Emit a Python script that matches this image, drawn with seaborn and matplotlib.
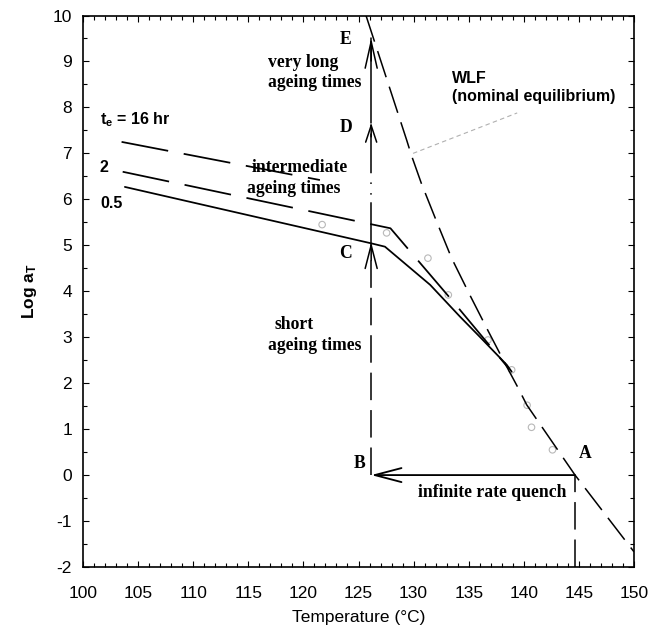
import matplotlib
matplotlib.use("Agg")
import matplotlib.pyplot as plt
from matplotlib.ticker import MultipleLocator
import seaborn as sns

# ---------------- data ----------------
wlf_T = [125.68, 129.37, 129.8, 130.7, 132.1, 133.45, 135.1, 136.8, 138.45, 139.5, 140.26, 144.65, 150.0]
wlf_logaT = [10.0, 7.29, 6.96, 6.35, 5.51, 4.72, 3.92, 3.12, 2.36, 1.89, 1.53, 0.0, -1.67]

age05_T = [103.8, 126.2, 127.4, 131.5, 134.2, 136.0, 138.45, 138.9]
age05_logaT = [6.27, 5.04, 4.97, 4.14, 3.45, 3.01, 2.40, 2.25]

age2_T = [103.6, 127.9, 133.6, 138.7]
age2_logaT = [6.60, 5.37, 3.77, 2.30]

age16_T = [103.5, 121.5]
age16_logaT = [7.25, 6.42]

data_T = [121.7, 127.55, 131.3, 133.15, 136.75, 138.9, 140.3, 140.7, 142.6]
data_logaT = [5.45, 5.27, 4.72, 3.92, 2.94, 2.29, 1.52, 1.04, 0.55]

leader_T = [129.95, 139.4]
leader_logaT = [7.0, 7.88]

T_quench = 126.15          # temperature of ageing (B-C-D-E)
T_A = 144.65               # starting temperature (A)
logaT_A = 0.0
logaT_C = 5.07
logaT_D = 7.66
logaT_E = 9.51

x_ticks = [100, 105, 110, 115, 120, 125, 130, 135, 140, 145, 150]
y_ticks = [-2, -1, 0, 1, 2, 3, 4, 5, 6, 7, 8, 9, 10]

# ---------------- style ----------------
sns.set_theme(style="ticks")
plt.rcParams["font.family"] = ["Liberation Sans", "DejaVu Sans"]
plt.rcParams["axes.unicode_minus"] = False
plt.rcParams["mathtext.fontset"] = "custom"
plt.rcParams["mathtext.rm"] = "Liberation Sans"
plt.rcParams["mathtext.bf"] = "Liberation Sans:bold"
plt.rcParams["mathtext.it"] = "Liberation Sans:italic"

fig = plt.figure(figsize=(6.5, 6.3), dpi=100)
ax = fig.add_axes([83 / 650, 63 / 630, 551 / 650, 551.5 / 630])

K = "black"
LW = 1.1
long_dash = (0, (18, 6.5))
age_dash = (0, (27, 9))

# WLF equilibrium curve
sns.lineplot(x=wlf_T, y=wlf_logaT, sort=False, estimator=None, color=K,
             lw=LW, linestyle=long_dash, ax=ax)
# ageing curves
sns.lineplot(x=age05_T, y=age05_logaT, sort=False, estimator=None, color=K,
             lw=LW * 1.15, ax=ax)
sns.lineplot(x=age2_T, y=age2_logaT, sort=False, estimator=None, color=K,
             lw=LW * 1.15, linestyle=age_dash, ax=ax)
sns.lineplot(x=age16_T, y=age16_logaT, sort=False, estimator=None, color=K,
             lw=LW * 1.15, linestyle=age_dash, ax=ax)
# faint data markers
sns.scatterplot(x=data_T, y=data_logaT, marker="o", s=22, facecolors="none",
                edgecolors="#b8b8b8", linewidths=0.8, ax=ax, zorder=1)
# leader line to WLF label
sns.lineplot(x=leader_T, y=leader_logaT, sort=False, estimator=None,
             color="#b0b0b0", lw=0.8, linestyle=(0, (4, 3)), ax=ax)

# vertical path B -> C (dashed), C -> D (dash-dot), D -> E (solid)
sns.lineplot(x=[T_quench, T_quench], y=[logaT_A, logaT_C], sort=False,
             estimator=None, color=K, lw=LW, linestyle=long_dash, ax=ax)
sns.lineplot(x=[T_quench, T_quench], y=[logaT_C, logaT_D], sort=False,
             estimator=None, color=K, lw=LW, linestyle=(0, (26, 5, 1, 6, 1, 6)), ax=ax)
sns.lineplot(x=[T_quench, T_quench], y=[logaT_D, logaT_E], sort=False,
             estimator=None, color=K, lw=LW, ax=ax)
# vertical dashed at A down to the axis
sns.lineplot(x=[T_A, T_A], y=[-2.0, logaT_A], sort=False, estimator=None,
             color=K, lw=LW, linestyle=long_dash, ax=ax)

# arrow heads
def head(y_tip, y_tail, hl, hw):
    ax.annotate("", xy=(T_quench, y_tip), xytext=(T_quench, y_tail),
                arrowprops=dict(arrowstyle=f"->,head_length={hl},head_width={hw}",
                                color=K, lw=LW, shrinkA=0, shrinkB=0))

head(logaT_C, logaT_C - 0.4, 1.4, 0.36)
head(logaT_D, logaT_D - 0.3, 1.0, 0.33)
head(logaT_E, logaT_E - 0.5, 1.6, 0.36)

# infinite rate quench A -> B
ax.annotate("", xy=(T_quench, logaT_A), xytext=(T_A, logaT_A),
            arrowprops=dict(arrowstyle="->,head_length=1.6,head_width=0.42",
                            color=K, lw=LW * 1.2, shrinkA=0, shrinkB=0))

# ---------------- text ----------------
serif = dict(family=["Liberation Serif", "DejaVu Serif"], fontweight="bold", fontsize=12.7, color=K)
sansb = dict(family=["Liberation Sans", "DejaVu Sans"], fontweight="bold", fontsize=11.5, color=K)

ax.text(123.8, 9.47, "E", ha="center", va="center", **serif)
ax.text(116.8, 8.97, "very long", ha="left", va="center", **serif)
ax.text(116.8, 8.55, "ageing times", ha="left", va="center", **serif)
ax.text(123.87, 7.57, "D", ha="center", va="center", **serif)
ax.text(115.3, 6.70, "intermediate", ha="left", va="center", **serif)
ax.text(114.85, 6.24, "ageing times", ha="left", va="center", **serif)
ax.text(123.8, 4.83, "C", ha="center", va="center", **serif)
ax.text(117.42, 3.27, "short", ha="left", va="center", **serif)
ax.text(116.8, 2.83, "ageing times", ha="left", va="center", **serif)
ax.text(125.1, 0.26, "B", ha="center", va="center", **serif)
ax.text(145.55, 0.48, "A", ha="center", va="center", **serif)
ax.text(137.1, -0.37, "infinite rate quench", ha="center", va="center", **serif)

ax.text(133.5, 8.64, "WLF", ha="left", va="center", **sansb)
ax.text(133.5, 8.23, "(nominal equilibrium)", ha="left", va="center", **sansb)
ax.text(101.54, 7.73, r"$\mathbf{t_e}$ = 16 hr", ha="left", va="center", **sansb)
ax.text(101.54, 6.70, "2", ha="left", va="center", **sansb)
ax.text(101.54, 5.92, "0.5", ha="left", va="center", **sansb)

# ---------------- axes ----------------
ax.set_xlim(100, 150)
ax.set_ylim(-2, 10)
ax.set_xticks(x_ticks)
ax.set_yticks(y_ticks)
ax.xaxis.set_minor_locator(MultipleLocator(1))
ax.yaxis.set_minor_locator(MultipleLocator(0.5))
ax.tick_params(which="both", direction="in", top=True, right=True, color=K, width=0.8)
ax.tick_params(which="major", length=4, labelsize=12.5, labelcolor=K)
ax.tick_params(which="minor", length=3)
ax.tick_params(axis="x", which="major", pad=14)
ax.tick_params(axis="y", which="major", pad=8)
for s in ax.spines.values():
    s.set_linewidth(1.2)
    s.set_color(K)

ax.set_xlabel("Temperature (\u00b0C)", fontsize=12.5, color=K, labelpad=6)
ax.set_ylabel(r"Log a$_\mathregular{T}$", fontsize=12.5, fontweight="bold", color=K, labelpad=10)

fig.savefig("out.png", dpi=100)
